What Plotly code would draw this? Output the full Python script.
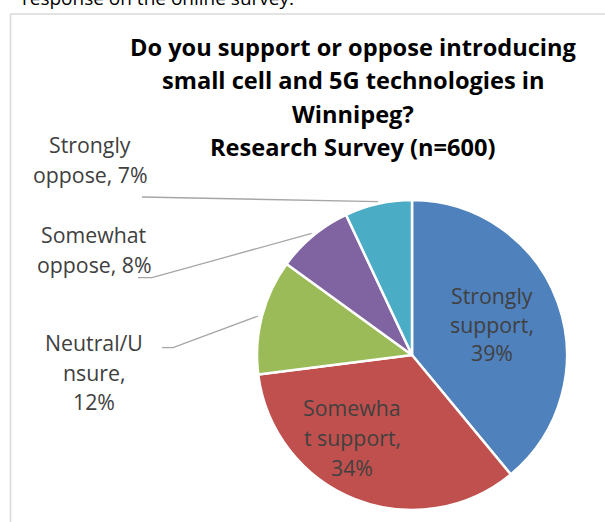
import plotly.graph_objects as go

W, H = 605, 522

categories = ["Strongly support", "Somewhat support", "Neutral/Unsure",
              "Somewhat oppose", "Strongly oppose"]
values = [39, 34, 12, 8, 7]
# wrapped label text as in the chart ("|" = line break, {v} = value)
label_templates = ["Strongly|support,|{v}%", "Somewha|t support,|{v}%",
                   "Neutral/U|nsure,|{v}%", "Somewhat|oppose, {v}%",
                   "Strongly|oppose, {v}%"]
colors = ["#4F81BD", "#C0504D", "#9BBB59", "#8064A2", "#4BACC6"]

title_lines = ["Do you support or oppose introducing",
               "small cell and 5G technologies in",
               "Winnipeg?",
               "Research Survey (n=600)"]
above_text = "response on the online survey."

FONT = "Open Sans, Noto Sans, sans-serif"
LABEL_COLOR = "#404040"

# pie placement (pixels): centre and radius
cx, cy, r = 412, 355, 155

# label layout: (centre x, baseline of first line, line spacing) in px
label_pos = [(491.5, 303, 28.5), (352.5, 414.5, 30), (94, 350, 29.2),
             (94, 241.7, 30), (90, 151.7, 30)]
LABEL_SIZE = 21.3

# leader lines (pixel polylines) for the outside labels
leaders = {2: [(162, 347.7), (173, 347.7), (258, 316)],
           3: [(138, 277.7), (152, 277.7), (311.7, 233.3)],
           4: [(142, 197), (378, 201.7)]}


def px(x):
    return x / W


def py(y):
    return 1 - y / H


fig = go.Figure()
fig.add_trace(go.Pie(
    labels=categories, values=values, sort=False, direction="clockwise",
    rotation=0, textinfo="none", hoverinfo="label+percent",
    marker=dict(colors=colors, line=dict(color="white", width=2.5)),
    domain=dict(x=[px(cx - r), px(cx + r)], y=[py(cy + r), py(cy - r)]),
    showlegend=False,
))

annotations = []
# slice labels
for i, (tpl, v) in enumerate(zip(label_templates, values)):
    lines = tpl.format(v=v).split("|")
    x0, b0, sp = label_pos[i]
    for k, line in enumerate(lines):
        b = b0 + k * sp
        annotations.append(dict(
            x=px(x0), y=py(b - 0.33 * LABEL_SIZE), xref="paper", yref="paper",
            text=line, showarrow=False, xanchor="center", yanchor="middle",
            font=dict(family=FONT, size=LABEL_SIZE, color=LABEL_COLOR)))

# title lines
TITLE_SIZE = 23.6
for k, line in enumerate(title_lines):
    b = 54.3 + k * 33.6
    annotations.append(dict(
        x=px(353), y=py(b - 0.33 * TITLE_SIZE), xref="paper", yref="paper",
        text="<b>" + line + "</b>", showarrow=False, xanchor="center",
        yanchor="middle", font=dict(family=FONT, size=TITLE_SIZE, color="#000000")))

# cut-off document text above the chart
annotations.append(dict(
    x=px(20), y=py(4.5 - 0.33 * 19), xref="paper", yref="paper",
    text=above_text, showarrow=False, xanchor="left", yanchor="middle",
    font=dict(family=FONT, size=19, color="#000000")))

shapes = []
# chart frame (left and top edges)
shapes.append(dict(type="line", xref="paper", yref="paper",
                   x0=px(10.5), y0=py(14), x1=px(10.5), y1=0,
                   line=dict(color="#D9D9D9", width=1.5)))
shapes.append(dict(type="line", xref="paper", yref="paper",
                   x0=px(10.5), y0=py(14), x1=1, y1=py(14),
                   line=dict(color="#D9D9D9", width=1.5)))
for i, pts in leaders.items():
    path = "M " + " L ".join(f"{px(x)},{py(y)}" for x, y in pts)
    shapes.append(dict(type="path", xref="paper", yref="paper", path=path,
                       line=dict(color="#A6A6A6", width=1.3)))

fig.update_layout(
    width=W, height=H, margin=dict(l=0, r=0, t=0, b=0),
    paper_bgcolor="white", plot_bgcolor="white",
    annotations=annotations, shapes=shapes,
)
fig.write_html("out.html", config={"displayModeBar": False},
               post_script="document.body.style.margin='0px';"
                           "document.body.style.overflow='hidden';")
